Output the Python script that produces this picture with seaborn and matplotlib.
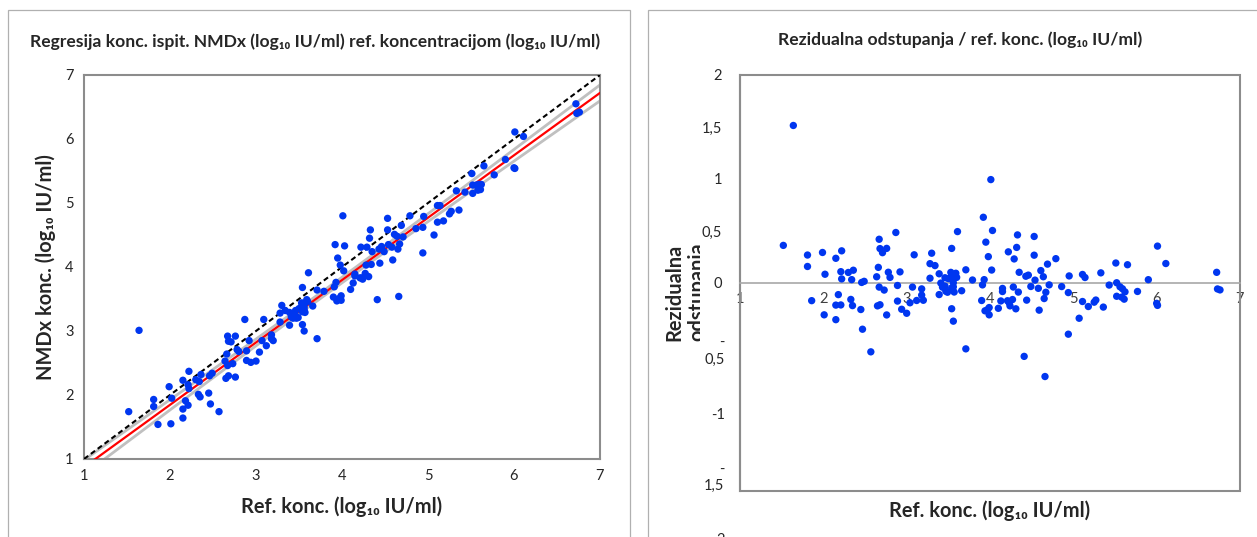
import numpy as np
import pandas as pd
import seaborn as sns
import matplotlib.pyplot as plt
from matplotlib.patches import Rectangle
from matplotlib.transforms import Bbox, blended_transform_factory

sns.set_style('white')
plt.rcParams['font.family'] = ['Lato', 'DejaVu Sans']

# reference concentration vs NMDx concentration (log10 IU/ml)
ref_conc = [1.52, 1.64, 1.81, 1.81, 1.86, 1.99, 2.02, 2.01, 2.15, 2.22,
            2.21, 2.22, 2.18, 2.15, 2.21, 2.15, 2.30, 2.36, 2.34, 2.33,
            2.35, 2.45, 2.46, 2.49, 2.47, 2.57, 2.67, 2.68, 2.71, 2.76,
            2.66, 2.64, 2.78, 2.80, 2.67, 2.73, 2.65, 2.68, 2.76, 2.87,
            2.92, 2.89, 2.89, 2.94, 3.00, 3.09, 3.07, 3.04, 3.12, 3.18,
            3.18, 3.20, 3.28, 3.30, 3.34, 3.28, 3.39, 3.39, 3.41, 3.43,
            3.46, 3.49, 3.47, 3.54, 3.53, 3.54, 3.56, 3.59, 3.53, 3.56,
            3.60, 3.56, 3.57, 3.54, 3.56, 3.61, 3.66, 3.71, 3.71, 3.79,
            3.46, 3.50, 3.54, 3.92, 3.95, 3.98, 3.93, 3.91, 3.90, 3.94,
            3.97, 3.99, 3.99, 4.01, 4.03, 4.02, 4.10, 4.13, 4.15, 4.15,
            4.28, 4.34, 4.27, 4.21, 4.23, 4.24, 4.31, 4.22, 4.29, 4.32,
            4.33, 4.35, 4.43, 4.46, 4.44, 4.49, 4.41, 4.53, 4.53, 4.54,
            4.58, 4.59, 4.61, 4.64, 4.67, 4.65, 4.69, 4.71, 4.79, 4.86,
            4.94, 4.95, 4.94, 4.66, 5.07, 5.11, 5.14, 5.11, 5.18, 5.25,
            5.27, 5.33, 5.36, 5.43, 5.51, 5.52, 5.56, 5.59, 5.62, 5.52,
            5.58, 5.61, 5.65, 5.77, 5.90, 6.01, 6.00, 6.01, 6.11, 6.72,
            6.73, 6.76]
nmdx_conc = [1.74, 3.01, 1.93, 1.82, 1.54, 2.13, 1.95, 1.55, 2.23, 2.37,
             2.16, 2.10, 1.91, 1.78, 1.84, 1.64, 2.24, 2.32, 2.21, 2.01,
             1.97, 2.03, 2.30, 2.34, 1.86, 1.74, 2.92, 2.84, 2.83, 2.92,
             2.64, 2.53, 2.71, 2.68, 2.46, 2.49, 2.26, 2.30, 2.28, 3.18,
             2.85, 2.69, 2.54, 2.51, 2.53, 3.18, 2.85, 2.67, 2.77, 2.94,
             2.88, 2.85, 3.28, 3.40, 3.32, 3.14, 3.29, 3.09, 3.22, 3.20,
             3.32, 3.21, 3.20, 3.68, 3.44, 3.42, 3.42, 3.49, 3.38, 3.37,
             3.46, 3.33, 3.29, 3.10, 3.00, 3.91, 3.39, 3.64, 2.88, 3.62,
             3.24, 3.35, 3.30, 4.35, 4.14, 4.03, 3.76, 3.69, 3.53, 3.47,
             3.51, 3.48, 3.55, 4.80, 4.33, 3.94, 3.65, 3.75, 3.89, 3.86,
             4.03, 4.04, 3.90, 3.83, 3.83, 3.81, 3.85, 4.31, 4.31, 4.45,
             4.58, 4.24, 4.28, 4.32, 4.06, 4.24, 3.49, 4.76, 4.58, 4.35,
             4.31, 4.11, 4.51, 4.48, 4.36, 4.28, 4.65, 4.47, 4.80, 4.60,
             4.62, 4.79, 4.22, 3.54, 4.50, 4.96, 4.96, 4.70, 4.72, 4.83,
             4.87, 5.19, 4.89, 5.17, 5.46, 5.28, 5.28, 5.29, 5.29, 5.15,
             5.20, 5.21, 5.58, 5.44, 5.68, 6.11, 5.55, 5.54, 6.04, 6.55,
             6.40, 6.42]

conc_ticks = [1, 2, 3, 4, 5, 6, 7]
resid_ticks = [-2, -1.5, -1, -0.5, 0, 0.5, 1, 1.5, 2]
resid_labels_pos = ['', '', '', '', '0', '0,5', '1', '1,5', '2']
# the negative labels sit lower than their ticks in the original
resid_labels_neg = ['-\n0,5', '-1', '-\n1,5']
resid_labels_neg_y = [-0.66, -1.27, -1.875]

title_left = 'Regresija konc. ispit. NMDx (log₁₀ IU/ml) ref. koncentracijom (log₁₀ IU/ml)'
title_right = 'Rezidualna odstupanja / ref. konc. (log₁₀ IU/ml)'
xlabel = 'Ref. konc. (log₁₀ IU/ml)'
ylabel_left = 'NMDx konc. (log₁₀ IU/ml)'
ylabel_right = 'Rezidualna\nodstupanja'

# Deming (orthogonal) regression + 95% band
df = pd.DataFrame({'ref': ref_conc, 'nmdx': nmdx_conc})
n = len(df)
xbar, ybar = df['ref'].mean(), df['nmdx'].mean()
sxx = ((df['ref'] - xbar) ** 2).sum()
syy = ((df['nmdx'] - ybar) ** 2).sum()
sxy = ((df['ref'] - xbar) * (df['nmdx'] - ybar)).sum()
slope = (syy - sxx + np.sqrt((syy - sxx) ** 2 + 4 * sxy ** 2)) / (2 * sxy)
intercept = ybar - slope * xbar
df['fit'] = intercept + slope * df['ref']
df['resid'] = df['nmdx'] - df['fit']
s = np.sqrt((df['resid'] ** 2).sum() / (n - 2))
t95 = 1.975
grid = pd.DataFrame({'x': np.linspace(conc_ticks[0], conc_ticks[-1], 200)})
grid['fit'] = intercept + slope * grid['x']
se = s * np.sqrt(1 / n + (grid['x'] - xbar) ** 2 / sxx)
grid['lo'] = grid['fit'] - t95 * se
grid['hi'] = grid['fit'] + t95 * se

W, H = 1257, 537
fig = plt.figure(figsize=(W / 100, H / 100), dpi=100)
ax1 = fig.add_axes([84 / W, 1 - 459 / H, 516 / W, 384 / H])
ax2 = fig.add_axes([740 / W, 1 - 491 / H, 500 / W, 416 / H])

blue = '#0036f0'
frame = '#8c8c8c'
tick_col = '#262626'

# panel borders
fig.patches.append(Rectangle((8 / W, -0.1), 622 / W, 1.1 - 10 / H, transform=fig.transFigure,
                             fill=False, edgecolor='#b0b0b0', lw=0.9))
fig.patches.append(Rectangle((648 / W, -0.1), 0.5, 1.1 - 10 / H, transform=fig.transFigure,
                             fill=False, edgecolor='#b0b0b0', lw=0.9))

# ---- left: regression
ax1.plot(grid['x'], grid['hi'], color='#c0c0c0', lw=2, zorder=2)
ax1.plot(grid['x'], grid['lo'], color='#c0c0c0', lw=2, zorder=2)
ax1.plot(grid['x'], grid['x'], color='black', lw=1.5, ls=(0, (2.5, 1.6)), zorder=3)
ax1.plot(grid['x'], grid['fit'], color='#ff0000', lw=1.6, zorder=3)
sns.scatterplot(data=df, x='ref', y='nmdx', color=blue, s=28, edgecolor='none',
                ax=ax1, zorder=4)
ax1.set_xlim(conc_ticks[0], conc_ticks[-1])
ax1.set_ylim(conc_ticks[0], conc_ticks[-1])
ax1.set_xticks(conc_ticks)
ax1.set_yticks(conc_ticks)
ax1.set_xlabel('')
ax1.set_ylabel('')
ax1.tick_params(direction='inout', length=7, width=1, color=frame, labelsize=10.5,
                labelcolor=tick_col, pad=4)
for sp in ax1.spines.values():
    sp.set_color(frame)
    sp.set_linewidth(1.5)

fig.text(315 / W, 1 - 42 / H, title_left, ha='center', va='center', fontsize=12.6,
         fontweight='bold')
fig.text(342 / W, 1 - 507 / H, xlabel, ha='center', va='center', fontsize=14.4,
         fontweight='bold')
fig.text(46 / W, 1 - 267 / H, ylabel_left, ha='center', va='center', fontsize=14.4,
         fontweight='bold', rotation=90)

# ---- right: residuals
sns.scatterplot(data=df, x='ref', y='resid', color=blue, s=28, edgecolor='none',
                ax=ax2, zorder=4)
ax2.set_xlim(conc_ticks[0], conc_ticks[-1])
ax2.set_ylim(resid_ticks[0], resid_ticks[-1])
ax2.set_xticks(conc_ticks)
ax2.set_yticks(resid_ticks)
ax2.set_yticklabels(resid_labels_pos)
ax2.set_xlabel('')
ax2.set_ylabel('')
ax2.spines['bottom'].set_position(('data', 0))
ax2.spines['bottom'].set_color('#a8a8a8')
ax2.spines['bottom'].set_linewidth(1.2)
ax2.spines['top'].set_visible(False)
ax2.spines['right'].set_visible(False)
ax2.spines['left'].set_color(frame)
ax2.spines['left'].set_linewidth(1.5)
ax2.add_patch(Rectangle((0, 0), 1, 1, transform=ax2.transAxes, fill=False,
                        edgecolor=frame, lw=1.5, clip_on=False, zorder=1))
ax2.tick_params(axis='x', direction='inout', length=7, width=1, color='#a8a8a8',
                labelsize=10.5, labelcolor='#404040', pad=3)
ax2.tick_params(axis='y', direction='out', length=5, width=1, color=frame,
                labelsize=10.5, labelcolor=tick_col, pad=8)

tr = blended_transform_factory(ax2.transAxes, ax2.transData)
for lab, yv in zip(resid_labels_neg, resid_labels_neg_y):
    ax2.text(-0.031, yv, lab, transform=tr, ha='right', va='center', multialignment='right',
             fontsize=10.5, color=tick_col, clip_on=False, linespacing=1.25)
ax2.text(-0.031, -2.40, '2', transform=tr, ha='right', va='top', fontsize=10.5,
         color=tick_col, clip_on=False)

fig.text(960 / W, 1 - 40 / H, title_right, ha='center', va='center', fontsize=12.6,
         fontweight='bold')
fig.text(990 / W, 1 - 511 / H, xlabel, ha='center', va='center', fontsize=14.4,
         fontweight='bold')
yl = fig.text(686 / W, 1 - 292 / H, ylabel_right, ha='center', va='center', fontsize=14.4,
              fontweight='bold', rotation=90, linespacing=1.15)
yl.set_clip_box(Bbox([[0, 0], [700, H]]))
yl.set_clip_on(True)

fig.savefig('out.png', dpi=100)
